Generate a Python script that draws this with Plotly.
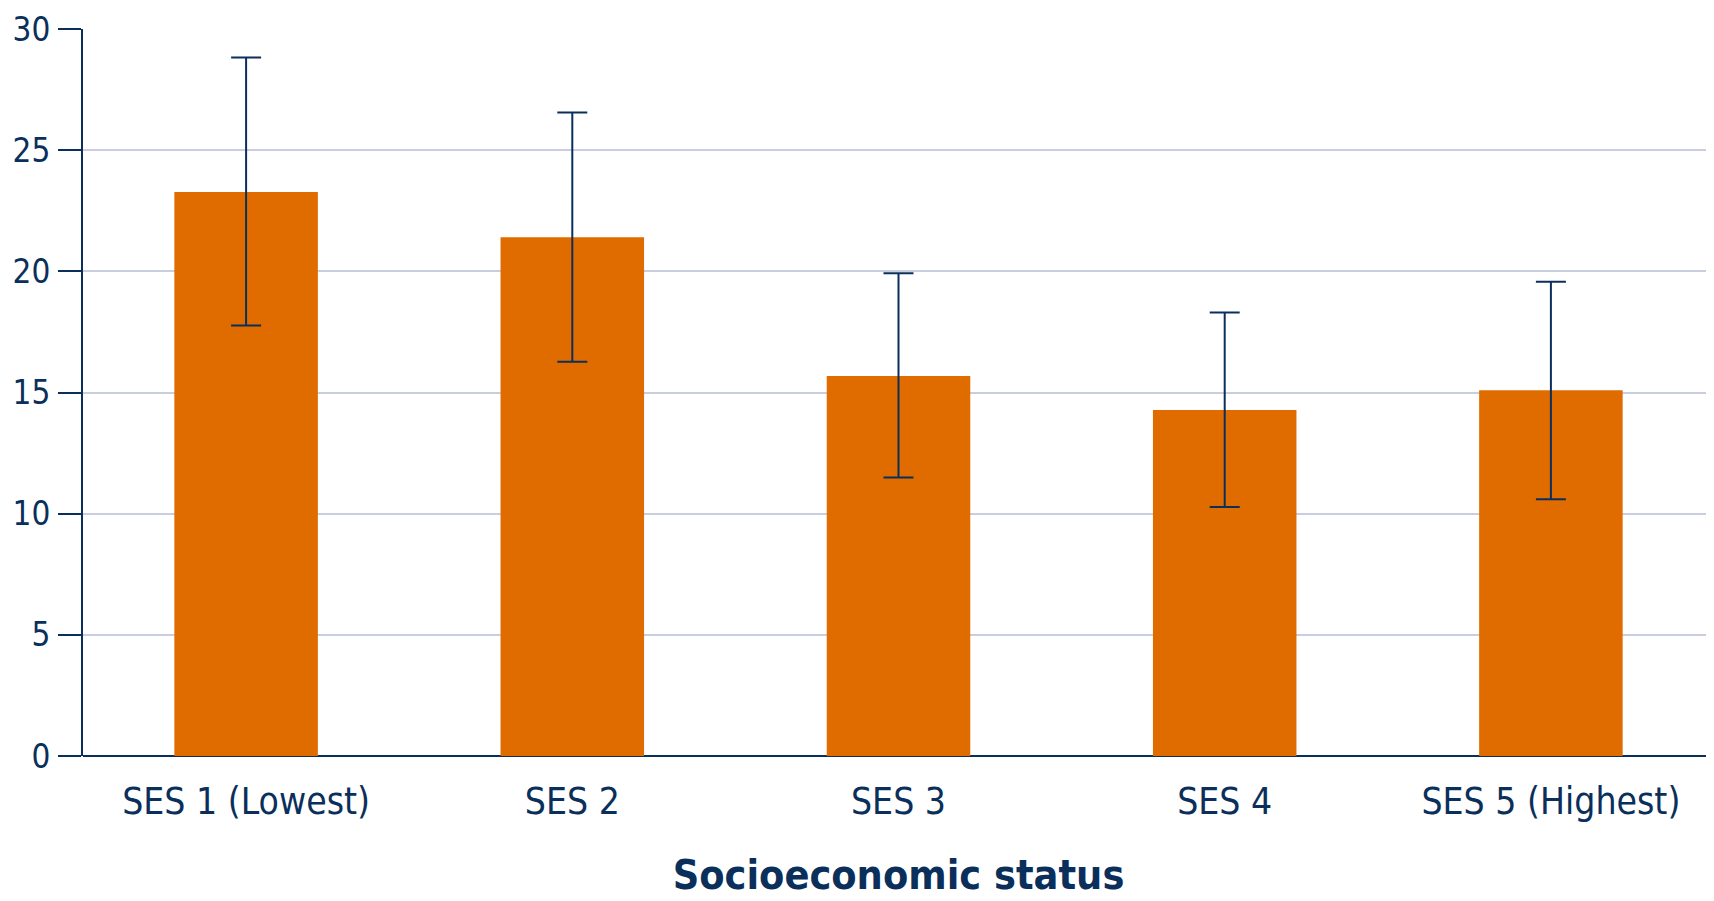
import plotly.graph_objects as go

categories = ["SES 1 (Lowest)", "SES 2", "SES 3", "SES 4", "SES 5 (Highest)"]
values = [23.27, 21.41, 15.68, 14.28, 15.09]
err_upper = [28.82, 26.55, 19.92, 18.30, 19.57]
err_lower = [17.76, 16.27, 11.49, 10.27, 10.60]
y_ticks = [0, 5, 10, 15, 20, 25, 30]

NAVY = "#0B2F5B"
ORANGE = "#E06C00"
GRID = "#C9CEDF"
FONT = "DejaVu Sans Condensed, Roboto, sans-serif"

plus = [u - v for u, v in zip(err_upper, values)]
minus = [v - l for v, l in zip(values, err_lower)]

fig = go.Figure(go.Bar(
    x=categories, y=values, marker=dict(color=ORANGE, line=dict(width=0)),
    width=0.44,
    error_y=dict(type="data", symmetric=False, array=plus, arrayminus=minus,
                 color=NAVY, thickness=2, width=15),
))

fig.update_layout(
    width=1706, height=893,
    margin=dict(l=75, r=0, t=21, b=145, autoexpand=False),
    plot_bgcolor="white", paper_bgcolor="white",
    showlegend=False,
    font=dict(family=FONT, color=NAVY, size=36),
    xaxis=dict(
        showgrid=False, showline=False, ticks="",
        tickfont=dict(size=37, color=NAVY, family=FONT),
        ticklabelstandoff=20,
        title=dict(text="<b>Socioeconomic status</b>",
                   font=dict(size=41, color=NAVY, family=FONT), standoff=38),
    ),
    yaxis=dict(
        range=[0, 30], tickvals=y_ticks, showgrid=True, gridcolor=GRID, gridwidth=2,
        showline=True, linecolor=NAVY, linewidth=2,
        ticks="outside", ticklen=23, tickcolor=NAVY, tickwidth=2,
        tickfont=dict(size=33, color=NAVY, family=FONT),
        ticklabelstandoff=1,
        zeroline=True, zerolinecolor=NAVY, zerolinewidth=2,
    ),
)

fig.write_html("out.html")
